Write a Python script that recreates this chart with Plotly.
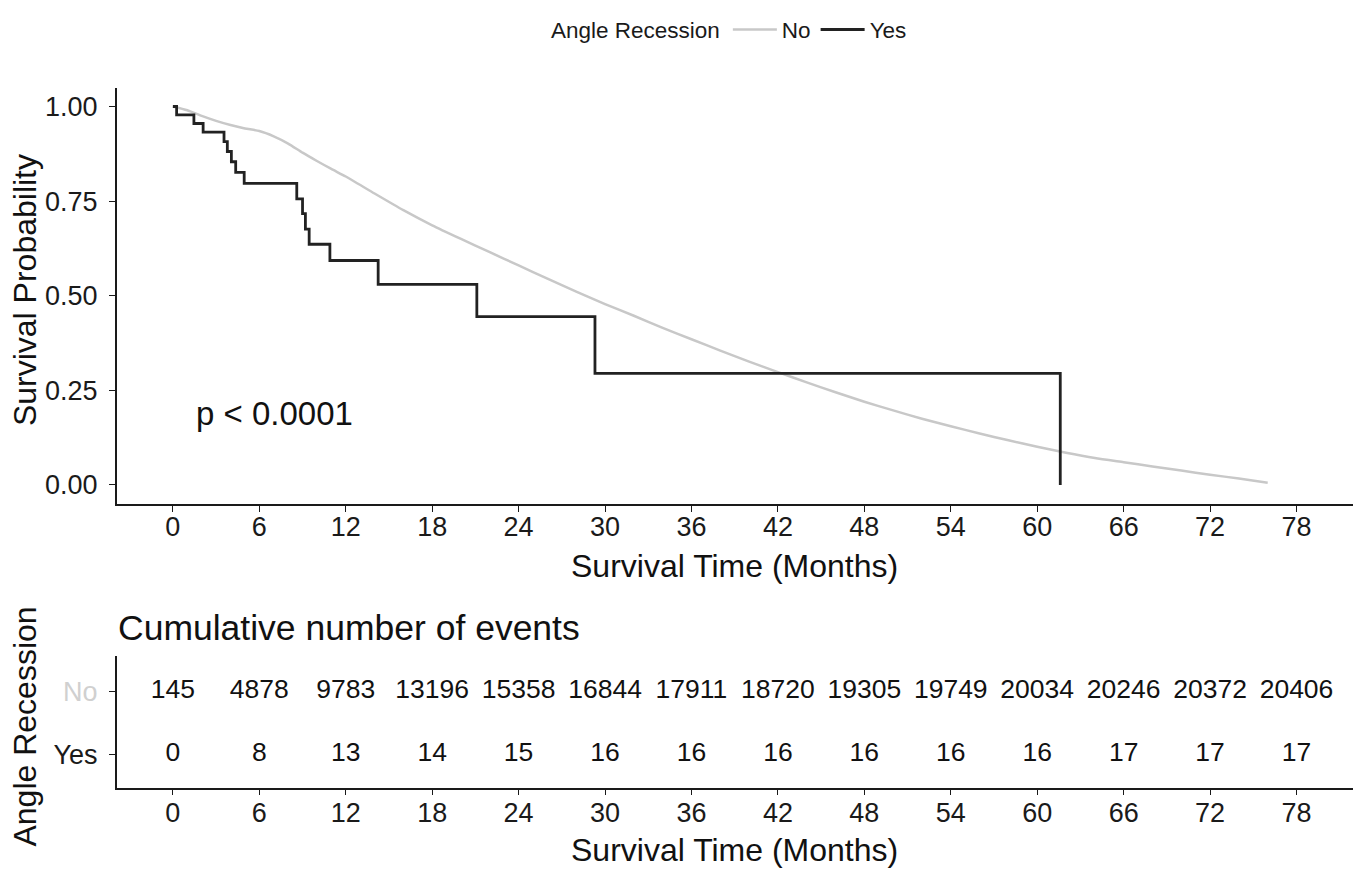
import plotly.graph_objects as go

# ---- Data ----
# "No" survival curve
times_no = [0, 1, 2, 3, 4, 5, 6, 7, 8, 9, 10, 11, 12, 14, 16, 18, 20, 22, 24, 26, 28, 30,
            32, 34, 36, 38, 40, 42, 44, 46, 48, 50, 52, 54, 56, 58, 60, 62, 64, 66, 68,
            70, 72, 74, 76]
surv_no = [1.0, 0.99, 0.975, 0.962, 0.951, 0.942, 0.935, 0.921, 0.902, 0.878, 0.856,
           0.835, 0.815, 0.77, 0.726, 0.686, 0.65, 0.615, 0.58, 0.545, 0.511, 0.478,
           0.447, 0.415, 0.385, 0.355, 0.326, 0.298, 0.271, 0.245, 0.22, 0.197, 0.175,
           0.155, 0.136, 0.118, 0.101, 0.085, 0.071, 0.06, 0.049, 0.038, 0.027, 0.017,
           0.006]

# "Yes" step curve
times_yes = [0, 0.26, 1.46, 2.1, 3.55, 3.78, 4.06, 4.36, 4.95, 8.6, 9.0, 9.2, 9.46,
             10.9, 14.25, 21.1, 29.3, 61.6]
surv_yes = [1.0, 0.978, 0.955, 0.932, 0.907, 0.881, 0.854, 0.826, 0.797, 0.756, 0.717,
            0.676, 0.636, 0.593, 0.530, 0.445, 0.295, 0.0]

# Risk table: cumulative number of events
table_times = [0, 6, 12, 18, 24, 30, 36, 42, 48, 54, 60, 66, 72, 78]
events_no = [145, 4878, 9783, 13196, 15358, 16844, 17911, 18720, 19305, 19749, 20034,
             20246, 20372, 20406]
events_yes = [0, 8, 13, 14, 15, 16, 16, 16, 16, 16, 16, 17, 17, 17]

x_ticks = list(range(0, 79, 6))
y_ticks = [0, 0.25, 0.5, 0.75, 1.0]
group_labels = ["No", "Yes"]
legend_title = "Angle Recession"

GRAY = "#c8c8c8"
DARK = "#222222"
FONT = "Liberation Sans, Arial, sans-serif"
OFF = 8  # page body margin
W, H = 1362 - OFF, 871 - OFF

fig = go.Figure()

fig.add_trace(go.Scatter(x=times_no, y=surv_no, mode="lines", name=group_labels[0],
                         line=dict(color=GRAY, width=2.5, shape="spline", smoothing=0.6),
                         xaxis="x", yaxis="y"))
fig.add_trace(go.Scatter(x=times_yes, y=surv_yes, mode="lines", name=group_labels[1],
                         line=dict(color=DARK, width=2.8, shape="hv"),
                         xaxis="x", yaxis="y"))

fig.add_trace(go.Scatter(x=table_times, y=[2] * len(table_times), mode="text",
                         text=[str(v) for v in events_no], showlegend=False,
                         textfont=dict(size=26.5, color="#111111", family=FONT),
                         xaxis="x2", yaxis="y2", hoverinfo="skip"))
fig.add_trace(go.Scatter(x=table_times, y=[1] * len(table_times), mode="text",
                         text=[str(v) for v in events_yes], showlegend=False,
                         textfont=dict(size=26.5, color="#111111", family=FONT),
                         xaxis="x2", yaxis="y2", hoverinfo="skip"))

def px_x(p):
    return (p - OFF) / W

def px_y(p):
    return 1 - (p - OFF) / H

axis_common = dict(showline=True, linecolor="#1a1a1a", linewidth=1.5, ticks="outside",
                   ticklen=6, tickwidth=1.3, tickcolor="#1a1a1a", showgrid=False,
                   zeroline=False, tickfont=dict(size=27, color="#1a1a1a", family=FONT))

x_dom = [px_x(116.7), px_x(1352.7)]

fig.update_layout(
    width=W, height=H,
    margin=dict(l=0, r=0, t=0, b=0),
    paper_bgcolor="white", plot_bgcolor="white",
    font=dict(family=FONT, color="#1a1a1a"),
    xaxis=dict(domain=x_dom, range=[-3.9, 81.9], tickvals=x_ticks, anchor="y",
               ticklabelstandoff=-8, **axis_common),
    yaxis=dict(domain=[px_y(500), px_y(79.3)], range=[-0.05, 1.05], tickvals=y_ticks,
               tickformat=".2f", anchor="x", ticklabelstandoff=6, **axis_common),
    xaxis2=dict(domain=x_dom, range=[-3.9, 81.9], tickvals=x_ticks, anchor="y2",
                ticklabelstandoff=-6, **axis_common),
    yaxis2=dict(domain=[px_y(786.7), px_y(654)], range=[0.465, 2.57], tickvals=[1, 2],
                ticktext=[group_labels[1],
                          "<span style='color:#d0d0d0'>" + group_labels[0] + "</span>"],
                anchor="x2", ticklabelstandoff=6, **axis_common),
    legend=dict(orientation="h", x=px_x(549), xanchor="left", y=px_y(21), yanchor="middle",
                title=dict(text=legend_title, font=dict(size=22.5, color="#1a1a1a")),
                font=dict(size=22.5, color="#1a1a1a"), bgcolor="rgba(0,0,0,0)",
                itemwidth=44, tracegroupgap=0),
    showlegend=True,
)

annotations = [
    dict(text="Survival Probability", x=px_x(25), y=px_y(284), xref="paper", yref="paper",
         textangle=-90, showarrow=False, font=dict(size=32, color="#111111"),
         xanchor="center", yanchor="middle"),
    dict(text="Survival Time (Months)", x=px_x(734), y=px_y(563), xref="paper",
         yref="paper", showarrow=False, font=dict(size=32, color="#111111"),
         xanchor="center", yanchor="middle"),
    dict(text="p < 0.0001", x=1.45, y=0.1875, xref="x", yref="y", showarrow=False,
         font=dict(size=33, color="#111111"), xanchor="left", yanchor="middle"),
    dict(text="Cumulative number of events", x=px_x(116), y=px_y(625), xref="paper",
         yref="paper", showarrow=False, font=dict(size=35.5, color="#111111"),
         xanchor="left", yanchor="middle"),
    dict(text=legend_title, x=px_x(25), y=px_y(725), xref="paper", yref="paper",
         textangle=-90, showarrow=False, font=dict(size=32, color="#111111"),
         xanchor="center", yanchor="middle"),
    dict(text="Survival Time (Months)", x=px_x(734), y=px_y(850), xref="paper",
         yref="paper", showarrow=False, font=dict(size=32, color="#111111"),
         xanchor="center", yanchor="middle"),
]
fig.update_layout(annotations=annotations)

fig.write_html("out.html")
